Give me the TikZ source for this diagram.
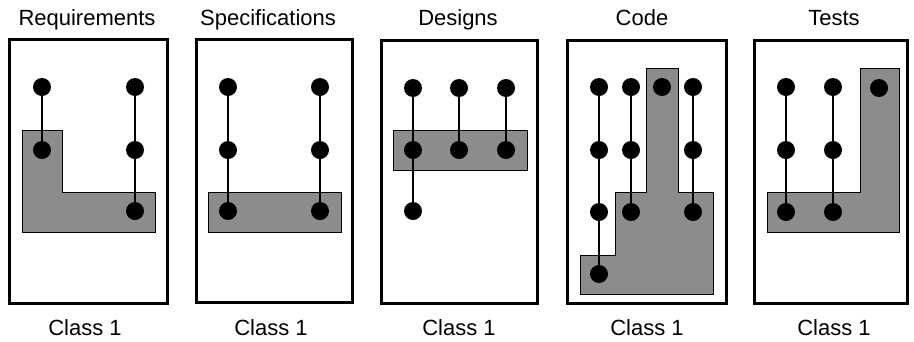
\documentclass[tikz,border=0pt]{standalone}
\usepackage{fontspec}
\setmainfont{Liberation Sans}
\begin{document}
\begin{tikzpicture}[x=1pt,y=-1pt,
  frame/.style={draw=black,line width=3pt},
  region/.style={draw=black,line width=0.8pt,fill=black!45},
  dot/.style={circle,fill=black,inner sep=0pt,minimum size=18pt},
  link/.style={draw=black,line width=1.5pt},
  label/.style={anchor=base,font=\fontsize{22}{26}\selectfont}]
\useasboundingbox (0,0) rectangle (914,341);
% labels
\node[label] (t1) at (87,25) {Requirements};
\node[label] (t2) at (268,25) {Specifications};
\node[label] (t3) at (458,25) {Designs};
\node[label] (t4) at (642,25) {Code};
\node[label] (t5) at (834,25) {Tests};
\node[label] (c1) at (85,335) {Class 1};
\node[label] (c2) at (271,335) {Class 1};
\node[label] (c3) at (459,335) {Class 1};
\node[label] (c4) at (647,335) {Class 1};
\node[label] (c5) at (834,335) {Class 1};
% frames
\draw[frame] (9,39) rectangle (167,303);
\draw[frame] (196,39) rectangle (352,302);
\draw[frame] (381,40) rectangle (537,303);
\draw[frame] (567,40) rectangle (726,303);
\draw[frame] (754,40) rectangle (907,303);
% shaded regions
\draw[region] (22,130) -- (62,130) -- (62,192) -- (155,192) -- (155,232) -- (22,232) -- cycle;
\draw[region] (208,192) rectangle (341,232);
\draw[region] (393,130) rectangle (527,170);
\draw[region] (580,294) -- (580,255) -- (615,255) -- (615,192) -- (646,192) -- (646,68) -- (678,68) -- (678,192) -- (713,192) -- (713,294) -- cycle;
\draw[region] (767,192) -- (860,192) -- (860,68) -- (899,68) -- (899,232) -- (767,232) -- cycle;
% panel 1
\node[dot] (a11) at (42,87) {};
\node[dot] (a12) at (42,150) {};
\node[dot] (a21) at (135,87) {};
\node[dot] (a22) at (135,150) {};
\node[dot] (a23) at (135,211) {};
\draw[link] (a11) -- (a12);
\draw[link] (a21) -- (a22);
\draw[link] (a22) -- (a23);
% panel 2
\node[dot] (b11) at (228,87) {};
\node[dot] (b12) at (228,150) {};
\node[dot] (b13) at (228,211) {};
\node[dot] (b21) at (320,87) {};
\node[dot] (b22) at (320,150) {};
\node[dot] (b23) at (320,211) {};
\draw[link] (b11) -- (b12);
\draw[link] (b12) -- (b13);
\draw[link] (b21) -- (b22);
\draw[link] (b22) -- (b23);
% panel 3
\node[dot] (d11) at (413,88) {};
\node[dot] (d12) at (413,150) {};
\node[dot] (d13) at (413,211) {};
\node[dot] (d21) at (459,88) {};
\node[dot] (d22) at (459,150) {};
\node[dot] (d31) at (506,88) {};
\node[dot] (d32) at (506,150) {};
\draw[link] (d11) -- (d12);
\draw[link] (d12) -- (d13);
\draw[link] (d21) -- (d22);
\draw[link] (d31) -- (d32);
% panel 4
\node[dot] (e11) at (599,87) {};
\node[dot] (e12) at (599,150) {};
\node[dot] (e13) at (599,212) {};
\node[dot] (e14) at (599,274) {};
\node[dot] (e21) at (631,87) {};
\node[dot] (e22) at (631,150) {};
\node[dot] (e23) at (631,212) {};
\node[dot] (e31) at (662,87) {};
\node[dot] (e41) at (693,87) {};
\node[dot] (e42) at (693,150) {};
\node[dot] (e43) at (693,212) {};
\draw[link] (e11) -- (e12);
\draw[link] (e12) -- (e13);
\draw[link] (e13) -- (e14);
\draw[link] (e21) -- (e22);
\draw[link] (e22) -- (e23);
\draw[link] (e41) -- (e42);
\draw[link] (e42) -- (e43);
% panel 5
\node[dot] (f11) at (786,87) {};
\node[dot] (f12) at (786,150) {};
\node[dot] (f13) at (786,212) {};
\node[dot] (f21) at (833,87) {};
\node[dot] (f22) at (833,150) {};
\node[dot] (f23) at (833,212) {};
\node[dot] (f31) at (879,88) {};
\draw[link] (f11) -- (f12);
\draw[link] (f12) -- (f13);
\draw[link] (f21) -- (f22);
\draw[link] (f22) -- (f23);
\end{tikzpicture}
\end{document}
